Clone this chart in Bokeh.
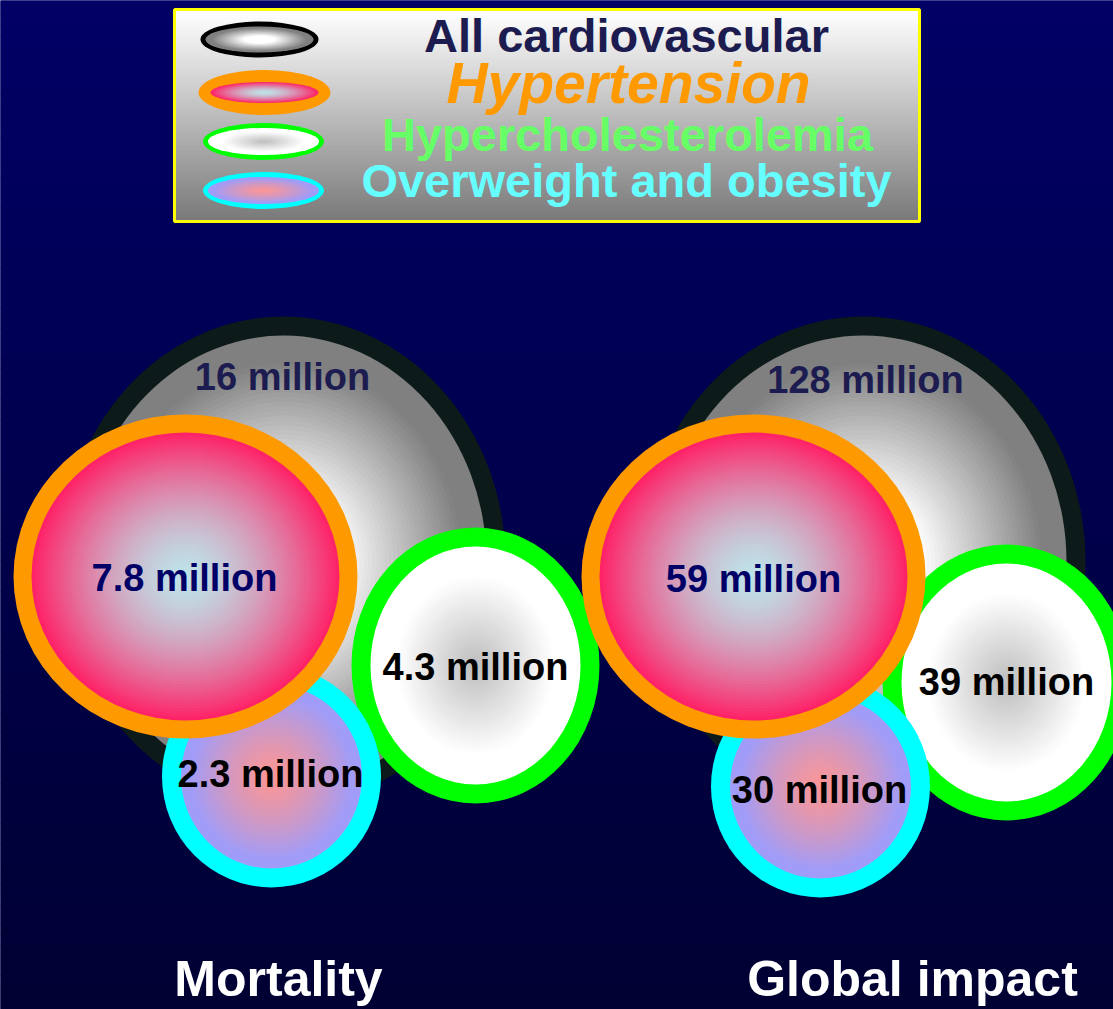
import numpy as np
from bokeh.plotting import figure
from bokeh.models import Range1d
from bokeh.core.properties import value
from bokeh.embed import file_html
from bokeh.resources import INLINE

# ---------------------------------------------------------------- data
risk_factors = ["All cardiovascular", "Hypertension",
                "Hypercholesterolemia", "Overweight and obesity"]
panels = ["Mortality", "Global impact"]
mortality_millions = [16, 7.8, 4.3, 2.3]
global_impact_millions = [128, 59, 39, 30]
panel_values = {"Mortality": mortality_millions,
                "Global impact": global_impact_millions}

# ---------------------------------------------------------------- styles
W, H = 1113, 1009
FONT = value("Liberation Sans")
BASELINE_SHIFT = 0.39   # baseline correction, as a fraction of font size

ring_colors = ["#0d1a1a", "#ff9900", "#00ff00", "#00ffff"]
legend_ring_colors = ["#000000", "#ff9900", "#00ff00", "#00ffff"]
label_colors = ["#1c1c50", "#000066", "#000000", "#000000"]
legend_text_colors = ["#1c1c50", "#ff9900", "#66ff66", "#66ffff"]

# radial fills: (centre rgb, edge rgb, start, end, gamma)
fills = [
    ((255, 255, 255), (128, 128, 128), 0.28, 0.88, 1.0),
    ((190, 226, 232), (255, 32, 102), 0.00, 1.00, 1.5),
    ((194, 194, 194), (255, 255, 255), 0.05, 0.75, 1.0),
    ((250, 150, 150), (160, 156, 248), 0.00, 0.90, 1.3),
]

# bubble outline size (outer width, outer height, ring thickness)
bubble_w = [444, 344, 248, 219]
bubble_h = [490, 324, 276, 222]
bubble_ring = [19, 18, 19, 19]

# layout of each panel: bubble centres, label anchors, title anchor
layout = {
    "Mortality": {
        "centres": [(283, 561), (185, 576), (475, 665), (271, 776)],
        "labels": [(282, 391), (184, 592), (475, 681), (270, 788)],
        "title": (278, 998),
    },
    "Global impact": {
        "centres": [(863, 561), (753, 576), (1006, 682), (820, 786)],
        "labels": [(865, 394), (753, 593), (1006, 696), (819, 804)],
        "title": (912, 998),
    },
}
draw_order = [0, 2, 3, 1]   # grey, green, cyan, orange on top

# legend layout
legend_box = (174, 919, 9, 221)
legend_icons = [(259, 39, 118, 36, 5), (264, 92, 132, 45, 12),
                (263, 141, 121, 37, 5), (263, 190, 121, 37, 5)]
legend_text_pos = [(626, 53), (628, 105), (627, 152), (626, 198)]
legend_text_size = [47, 57, 47, 47]
legend_text_style = ["bold", "bold italic", "bold", "bold"]


def rgb_hex(c):
    return "#%02x%02x%02x" % tuple(int(round(v)) for v in c)


def fill_colour(k, t):
    c0, c1, a, b, g = fills[k]
    s = np.clip((t - a) / (b - a), 0, 1) ** g
    return rgb_hex([c0[i] + (c1[i] - c0[i]) * s for i in range(3)])


def gradient_ellipse(p, k, x, y, w, h, steps=48):
    ts = np.linspace(1, 1.0 / steps, steps)
    p.ellipse(x=[x] * steps, y=[y] * steps,
              width=list(w * ts), height=list(h * ts),
              width_units="screen", height_units="screen",
              fill_color=[fill_colour(k, t - 0.5 / steps) for t in ts],
              line_color=None)


def ringed_bubble(p, k, x, y, w, h, ring, ring_colour, steps=48):
    p.ellipse(x=[x], y=[y], width=[w], height=[h],
              width_units="screen", height_units="screen",
              fill_color=ring_colour, line_color=None)
    gradient_ellipse(p, k, x, y, w - 2 * ring, h - 2 * ring, steps)


def base(y, size):
    return y - BASELINE_SHIFT * size


# ---------------------------------------------------------------- figure
p = figure(width=W, height=H, x_range=Range1d(0, W), y_range=Range1d(H, 0),
           output_backend="svg", toolbar_location=None, min_border=0,
           x_axis_location=None, y_axis_location=None)
p.grid.visible = False
p.outline_line_color = None
p.background_fill_color = "#000066"
p.border_fill_color = "#000066"

# navy backdrop fading downward
n_bg = 101
edges = np.linspace(-6, H + 6, n_bg + 1)
blues = np.linspace(102, 50, n_bg)
p.quad(left=-6, right=W + 6, top=list(edges[:-1]),
       bottom=list(edges[1:] + 0.5),
       fill_color=[rgb_hex((0, 0, b)) for b in blues], line_color=None)

# legend box
l, r, t, b = legend_box
n_lg = 53
ly = np.linspace(t, b, n_lg + 1)
greys = np.linspace(255, 122, n_lg)
p.quad(left=l, right=r, top=list(ly[:-1]), bottom=list(ly[1:] + 0.5),
       fill_color=[rgb_hex((g, g, g)) for g in greys], line_color=None)
p.quad(left=[l], right=[r], top=[t], bottom=[b], fill_color=None,
       line_color="#ffff00", line_width=3)

for k, (x, y, w, h, ring) in enumerate(legend_icons):
    ringed_bubble(p, k, x, y, w, h, ring, legend_ring_colors[k], steps=20)

for k, name in enumerate(risk_factors):
    x, y = legend_text_pos[k]
    size = legend_text_size[k]
    p.text(x=[x], y=[base(y, size)], text=[name], text_font=FONT,
           text_font_size=f"{size}px",
           text_font_style=legend_text_style[k],
           text_color=legend_text_colors[k],
           text_align="center", text_baseline="alphabetic")

# bubble panels
for panel in panels:
    lay = layout[panel]
    vals = panel_values[panel]
    for k in draw_order:
        cx, cy = lay["centres"][k]
        ringed_bubble(p, k, cx, cy, bubble_w[k], bubble_h[k],
                      bubble_ring[k], ring_colors[k])
    p.text(x=[lay["labels"][k][0] for k in range(4)],
           y=[base(lay["labels"][k][1], 38) for k in range(4)],
           text=[f"{v:g} million" for v in vals],
           text_color=label_colors, text_font=FONT,
           text_font_size="38px", text_font_style="bold",
           text_align="center", text_baseline="alphabetic")
    tx, ty = lay["title"]
    p.text(x=[tx], y=[base(ty, 50)], text=[panel], text_font=FONT,
           text_font_size="50px", text_font_style="bold",
           text_color="#ffffff", text_align="center",
           text_baseline="alphabetic")

open("out.html", "w").write(file_html(p, INLINE))
